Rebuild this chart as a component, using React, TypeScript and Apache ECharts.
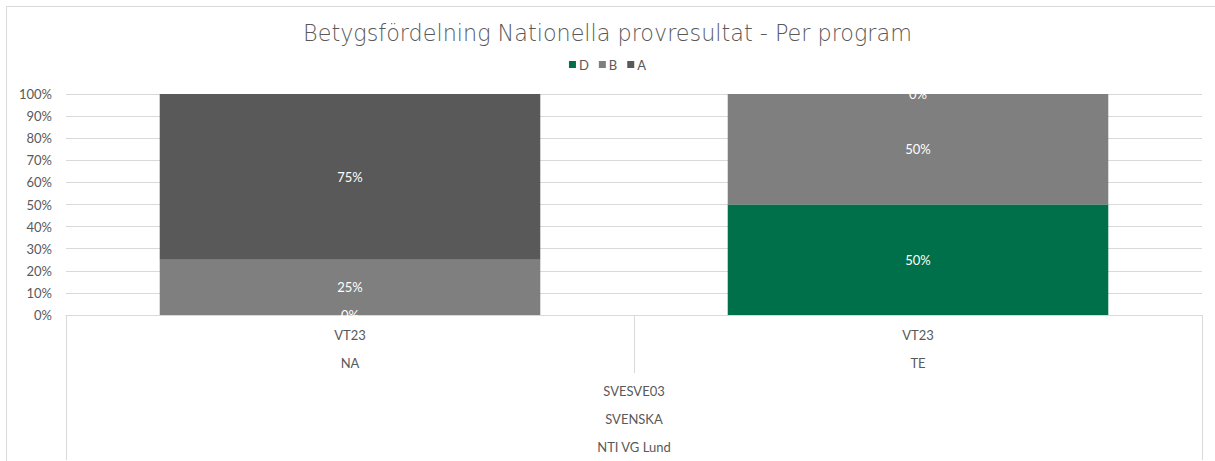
import React, { useEffect, useRef } from "react";
import * as echarts from "echarts";

const programs = ["NA", "TE"];
const periods = ["VT23", "VT23"];
const courseGroup = ["SVESVE03", "SVENSKA", "NTI VG Lund"];
const seriesNames = ["D", "B", "A"];
const dValues = [0, 50];
const bValues = [25, 50];
const aValues = [75, 0];
const seriesColors = ["#00704A", "#7F7F7F", "#595959"];
const yTicks = [0, 10, 20, 30, 40, 50, 60, 70, 80, 90, 100];

const FONT = "Lato, 'Open Sans', sans-serif";
const TEXT = "#595959";

export default function App() {
  const ref = useRef<HTMLDivElement>(null);
  useEffect(() => {
    if (!ref.current) return;
    const chart = echarts.init(ref.current, null, { renderer: "svg" });
    const values = [dValues, bValues, aValues];
    chart.setOption({
      animation: false,
      textStyle: { fontFamily: FONT, color: TEXT },
      title: {
        text: "Betygsfördelning Nationella provresultat - Per program",
        left: "center",
        top: 17,
        textStyle: { fontFamily: "'DejaVu Sans', sans-serif", fontSize: 22.3, fontWeight: 200, color: TEXT },
      },
      legend: {
        data: seriesNames,
        top: 53,
        left: "center",
        itemWidth: 7,
        itemHeight: 7,
        itemGap: 10,
        icon: "rect",
        textStyle: { fontFamily: FONT, fontSize: 13, color: TEXT, padding: [0, 0, 0, -2] },
      },
      graphic: [
        {
          type: "rect",
          shape: { x: 6.5, y: 6.5, width: 1230, height: 480 },
          style: { fill: "none", stroke: "#D9D9D9", lineWidth: 1 },
          silent: true,
        },
      ],
      grid: { left: 66, right: 13, top: 94, bottom: 144, containLabel: false },
      xAxis: [
        {
          type: "category",
          data: programs,
          position: "bottom",
          axisLine: { show: true, lineStyle: { color: "#D9D9D9" } },
          axisTick: { show: true, length: 58, interval: 0, lineStyle: { color: "#D9D9D9" } },
          axisLabel: {
            interval: 0,
            margin: 6,
            fontFamily: FONT,
            fontSize: 13,
            color: TEXT,
            lineHeight: 28,
            formatter: (v: string, i: number) => periods[i] + "\n" + v,
          },
        },
        {
          type: "category",
          data: [courseGroup[0]],
          position: "bottom",
          axisLine: { show: false },
          axisTick: { show: true, length: 145, lineStyle: { color: "#D9D9D9" } },
          axisLabel: {
            interval: 0,
            margin: 62,
            fontFamily: FONT,
            fontSize: 13,
            color: TEXT,
            lineHeight: 28,
            formatter: () => courseGroup.join("\n"),
          },
        },
      ],
      yAxis: {
        type: "value",
        min: yTicks[0],
        max: yTicks[yTicks.length - 1],
        interval: 10,
        axisLine: { show: false },
        axisTick: { show: false },
        splitLine: { lineStyle: { color: "#D9D9D9" } },
        axisLabel: { fontFamily: FONT, fontSize: 13, color: TEXT, margin: 14, formatter: "{value}%" },
      },
      series: seriesNames.map((name, i) => ({
        name,
        type: "bar",
        stack: "total",
        xAxisIndex: 0,
        barCategoryGap: "33%",
        data: values[i],
        itemStyle: { color: seriesColors[i] },
        label: {
          show: true,
          position: "inside",
          color: "#FFFFFF",
          fontFamily: FONT,
          fontSize: 13,
          formatter: "{c}%",
        },
      })),
    });
    return () => chart.dispose();
  }, []);
  return (
    <div
      ref={ref}
      style={{ position: "fixed", left: 0, top: 0, width: 1215, height: 461, background: "#fff" }}
    />
  );
}
